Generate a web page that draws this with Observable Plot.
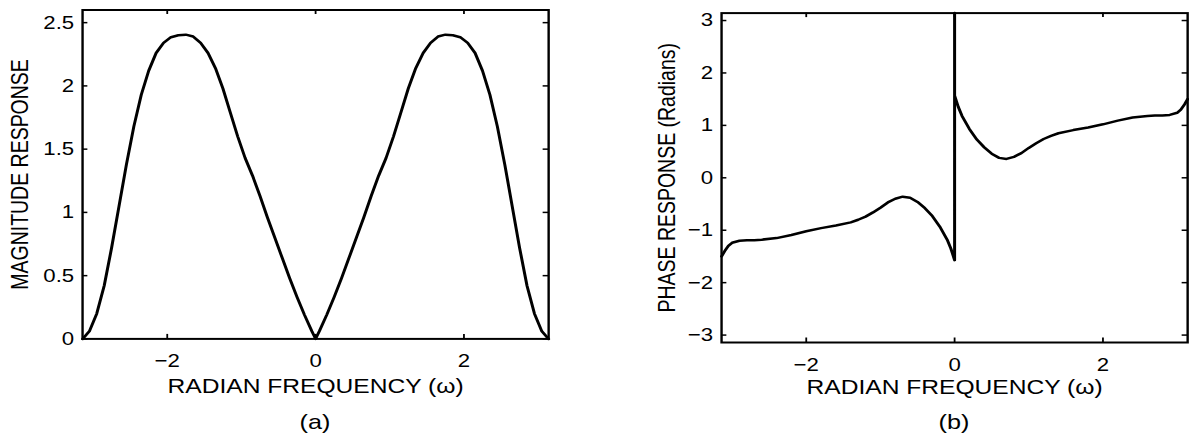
<!DOCTYPE html>
<html><head><meta charset="utf-8">
<script src="https://cdn.jsdelivr.net/npm/d3@7"></script>
<script src="https://cdn.jsdelivr.net/npm/@observablehq/plot@0.6"></script>
<style>
html,body{margin:0;padding:0;background:#fff;}
#stage{position:absolute;left:0;top:0;width:991px;height:436px;transform:scaleX(1.2);transform-origin:0 0;font-family:"Liberation Sans",Arial,sans-serif;color:#000;}
.panel{position:absolute;top:0;}
.cap{position:absolute;font-size:21px;transform:translate(-50%,-50%);white-space:nowrap;}
</style></head><body><div id="stage"></div>
<script>
// ---- data ----
const magOmega = [-3.1416,-3.05,-2.95,-2.85,-2.75,-2.65,-2.55,-2.45,-2.35,-2.25,-2.15,-2.05,-1.95,-1.85,-1.75,-1.65,-1.55,-1.45,-1.35,-1.25,-1.15,-1.05,-0.95,-0.85,-0.75,-0.65,-0.55,-0.45,-0.35,-0.25,-0.15,-0.05,0,
  0.05,0.15,0.25,0.35,0.45,0.55,0.65,0.75,0.85,0.95,1.05,1.15,1.25,1.35,1.45,1.55,1.65,1.75,1.85,1.95,2.05,2.15,2.25,2.35,2.45,2.55,2.65,2.75,2.85,2.95,3.05,3.1416];
const magValue = [0,0.06,0.2,0.42,0.72,1.05,1.38,1.68,1.93,2.12,2.26,2.34,2.385,2.4,2.405,2.39,2.34,2.26,2.14,1.98,1.79,1.6,1.43,1.29,1.13,0.96,0.8,0.64,0.48,0.33,0.19,0.06,0,
  0.06,0.19,0.33,0.48,0.64,0.8,0.96,1.13,1.29,1.43,1.6,1.79,1.98,2.14,2.26,2.34,2.39,2.405,2.4,2.385,2.34,2.26,2.12,1.93,1.68,1.38,1.05,0.72,0.42,0.2,0.06,0];

const phaseOmega = [-3.1416,-3.1,-3.05,-3.0,-2.9,-2.8,-2.7,-2.6,-2.4,-2.2,-2.0,-1.8,-1.6,-1.4,-1.3,-1.2,-1.1,-1.0,-0.9,-0.8,-0.7,-0.6,-0.5,-0.4,-0.3,-0.2,-0.1,-0.05,0,0,0,
  0.05,0.1,0.2,0.3,0.4,0.5,0.6,0.7,0.8,0.9,1.0,1.1,1.2,1.3,1.4,1.6,1.8,2.0,2.2,2.4,2.6,2.7,2.8,2.9,3.0,3.05,3.1,3.1416];
const phaseValue = [-1.5,-1.4,-1.3,-1.24,-1.2,-1.19,-1.19,-1.18,-1.15,-1.09,-1.02,-0.96,-0.91,-0.85,-0.8,-0.74,-0.66,-0.57,-0.47,-0.4,-0.36,-0.38,-0.46,-0.58,-0.73,-0.93,-1.18,-1.35,-1.5708,3.1416,1.5708,
  1.35,1.18,0.93,0.73,0.58,0.46,0.38,0.36,0.4,0.47,0.57,0.66,0.74,0.8,0.85,0.91,0.96,1.02,1.09,1.15,1.18,1.19,1.19,1.2,1.24,1.3,1.4,1.5];

const xTicks = [-2, 0, 2];
const magTicks = [0, 0.5, 1, 1.5, 2, 2.5];
const phaseTicks = [-3, -2, -1, 0, 1, 2, 3];
const xLabel = "RADIAN FREQUENCY (ω)";
const magLabel = "MAGNITUDE RESPONSE";
const phaseLabel = "PHASE RESPONSE (Radians)";
const captions = ["(a)", "(b)"];

// ---- drawing ----
const fmt = d => d < 0 ? "\u2212" + (-d) : String(d);
const stage = document.getElementById("stage");

function panel(o) {
  const rows = o.xs.map((x, i) => ({x, y: o.ys[i]}));
  const plotH = o.height - o.mt - o.mb;
  const plotW = o.width - o.ml - o.mr;
  const tk = 4.5;
  const svg = Plot.plot({
    width: o.width, height: o.height,
    marginTop: o.mt, marginBottom: o.mb, marginLeft: o.ml, marginRight: o.mr,
    style: {fontFamily: "'Liberation Sans', Arial, sans-serif", fontSize: "18px", background: "transparent", overflow: "visible", color: "#000"},
    x: {domain: [-Math.PI, Math.PI]},
    y: {domain: o.yDomain},
    marks: [
      Plot.axisX(xTicks, {anchor: "bottom", tickSize: 0, tickPadding: 15, tickFormat: fmt, fontSize: 18.5, label: null}),
      Plot.axisY(o.yTicks, {anchor: "left", tickSize: 0, tickPadding: 7, tickFormat: fmt, fontSize: 18.5, label: null}),
      Plot.tickX(xTicks, {x: d => d, insetTop: plotH - tk, stroke: "#000", strokeWidth: 1.5}),
      Plot.tickX(xTicks, {x: d => d, insetBottom: plotH - tk, stroke: "#000", strokeWidth: 1.5}),
      Plot.tickY(o.yTicks, {y: d => d, insetRight: plotW - tk, stroke: "#000", strokeWidth: 1.5}),
      Plot.tickY(o.yTicks, {y: d => d, insetLeft: plotW - tk, stroke: "#000", strokeWidth: 1.5}),
      Plot.line(rows, {x: "x", y: "y", stroke: "#000", strokeWidth: 2.5}),
      Plot.frame({stroke: "#000", strokeWidth: 2}),
      Plot.text([xLabel], {text: d => d, frameAnchor: "bottom", dy: o.xlabDy, lineAnchor: "middle", fontSize: 20.5, fill: "#000"}),
      Plot.text([o.yLabel], {text: d => d, frameAnchor: "left", rotate: -90, dx: o.ylabDx, lineAnchor: "middle", textAnchor: "middle", fontSize: 19.5, fill: "#000"})
    ]
  });
  const div = document.createElement("div");
  div.className = "panel";
  div.style.left = o.left + "px";
  div.appendChild(svg);
  stage.appendChild(div);
  const cap = document.createElement("div");
  cap.className = "cap";
  cap.textContent = o.caption;
  cap.style.left = (o.left + o.ml + plotW / 2) + "px";
  cap.style.top = o.capY + "px";
  stage.appendChild(cap);
}

panel({xs: magOmega, ys: magValue, yDomain: [0, 2.6], yTicks: magTicks, yLabel: magLabel,
  left: 0, width: 495, height: 400, mt: 9.5, mb: 61.6, ml: 68.3, mr: 38.3,
  xlabDy: 47.6, ylabDx: -52, caption: captions[0], capY: 421.7});
panel({xs: phaseOmega, ys: phaseValue, yDomain: [-Math.PI, Math.PI], yTicks: phaseTicks, yLabel: phaseLabel,
  left: 495, width: 496, height: 400, mt: 12.6, mb: 58, ml: 105.8, mr: 1.8,
  xlabDy: 45, ylabDx: -45, caption: captions[1], capY: 422});
</script></body></html>
